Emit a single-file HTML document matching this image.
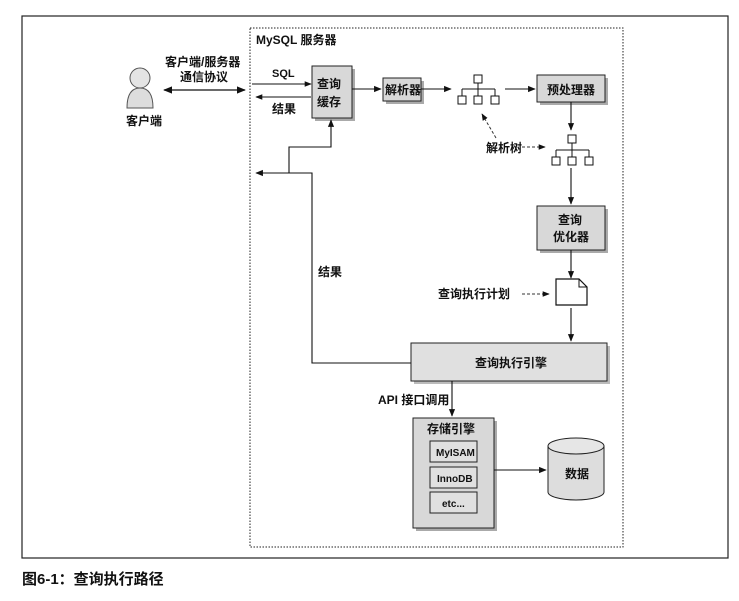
<!DOCTYPE html>
<html><head><meta charset="utf-8"><style>
body{margin:0;background:#fff;width:739px;height:596px;overflow:hidden}
svg text{font-family:"Liberation Sans","Noto Sans CJK SC",sans-serif;font-weight:bold;fill:#111}
</style></head><body>
<svg width="739" height="596" viewBox="0 0 739 596" xmlns="http://www.w3.org/2000/svg">
<defs>
<marker id="a" viewBox="0 0 10 10" refX="9" refY="5" markerWidth="7" markerHeight="7" orient="auto-start-reverse"><path d="M0,1 L10,5 L0,9 z" fill="#111"/></marker>
</defs>
<rect x="22" y="16" width="706" height="542" fill="none" stroke="#222" stroke-width="1.2"/>
<rect x="250" y="28" width="373" height="519" fill="none" stroke="#222" stroke-width="1" stroke-dasharray="1.5,1.5"/>
<text x="256" y="44" font-size="12" font-weight="normal">MySQL 服务器</text>
<!-- client -->
<path d="M127,108 Q127,88 140,88 Q153,88 153,108 Z" fill="#ddd" stroke="#555"/>
<circle cx="140" cy="78" r="10" fill="#e4e4e4" stroke="#555"/>
<text x="126" y="125" font-size="12">客户端</text>
<text x="165" y="66" font-size="12">客户端/服务器</text>
<text x="180" y="81" font-size="12">通信协议</text>
<line x1="164" y1="90" x2="245" y2="90" stroke="#111" stroke-width="1.3" marker-start="url(#a)" marker-end="url(#a)"/>
<text x="272" y="77" font-size="11">SQL</text>
<line x1="252" y1="84" x2="311" y2="84" stroke="#111" marker-end="url(#a)"/>
<line x1="311" y1="97" x2="256" y2="97" stroke="#111" marker-end="url(#a)"/>
<text x="272" y="113" font-size="12">结果</text>
<!-- boxes -->
<g fill="#d8d8d8" stroke="#222">
<rect x="315" y="69" width="40" height="52" fill="#aaa" stroke="none"/>
<rect x="312" y="66" width="40" height="52"/>
<rect x="386" y="81" width="38" height="23" fill="#aaa" stroke="none"/>
<rect x="383" y="78" width="38" height="23"/>
<rect x="540" y="78" width="68" height="27" fill="#aaa" stroke="none"/>
<rect x="537" y="75" width="68" height="27"/>
<rect x="540" y="209" width="68" height="44" fill="#aaa" stroke="none"/>
<rect x="537" y="206" width="68" height="44"/>
<rect x="414" y="346" width="196" height="38" fill="#bbb" stroke="none"/>
<rect x="411" y="343" width="196" height="38" fill="#e0e0e0"/>
<rect x="416" y="421" width="81" height="110" fill="#aaa" stroke="none"/>
<rect x="413" y="418" width="81" height="110"/>
<rect x="430" y="441" width="47" height="21" fill="#e0e0e0"/>
<rect x="430" y="467" width="47" height="21" fill="#e0e0e0"/>
<rect x="430" y="492" width="47" height="21" fill="#e0e0e0"/>
</g>
<text x="317" y="88" font-size="12">查询</text>
<text x="317" y="106" font-size="12">缓存</text>
<text x="385" y="94" font-size="12">解析器</text>
<text x="547" y="94" font-size="12">预处理器</text>
<text x="558" y="224" font-size="12">查询</text>
<text x="553" y="241" font-size="12">优化器</text>
<text x="475" y="367" font-size="12">查询执行引擎</text>
<text x="427" y="433" font-size="12">存储引擎</text>
<text x="436" y="456" font-size="10">MyISAM</text>
<text x="437" y="482" font-size="10">InnoDB</text>
<text x="442" y="507" font-size="10">etc...</text>
<!-- arrows main -->
<g stroke="#111" fill="none" stroke-width="1.1">
<line x1="352" y1="89" x2="381" y2="89" marker-end="url(#a)"/>
<line x1="421" y1="89" x2="451" y2="89" marker-end="url(#a)"/>
<line x1="505" y1="89" x2="535" y2="89" marker-end="url(#a)"/>
<line x1="571" y1="102" x2="571" y2="130" marker-end="url(#a)"/>
<line x1="571" y1="168" x2="571" y2="204" marker-end="url(#a)"/>
<line x1="571" y1="250" x2="571" y2="278" marker-end="url(#a)"/>
<line x1="571" y1="308" x2="571" y2="341" marker-end="url(#a)"/>
<line x1="452" y1="381" x2="452" y2="416" marker-end="url(#a)"/>
<line x1="494" y1="470" x2="546" y2="470" marker-end="url(#a)"/>
<polyline points="411,363 312,363 312,173 256,173" marker-end="url(#a)"/>
<polyline points="289,173 289,147 331,147 331,120" marker-end="url(#a)"/>
</g>
<g stroke="#333" fill="none" stroke-dasharray="3,2">
<line x1="522" y1="147" x2="545" y2="147" marker-end="url(#a)"/>
<line x1="496" y1="138" x2="482" y2="114" marker-end="url(#a)"/>
<line x1="522" y1="294" x2="549" y2="294" marker-end="url(#a)"/>
</g>
<text x="486" y="152" font-size="12">解析树</text>
<text x="438" y="298" font-size="12">查询执行计划</text>
<text x="318" y="276" font-size="12">结果</text>
<text x="378" y="404" font-size="12">API 接口调用</text>
<!-- trees -->
<g stroke="#111" fill="#fff">
<path d="M478,82 V89 M462,89 H495 M462,89 V96 M478,89 V96 M495,89 V96" fill="none"/>
<rect x="474" y="75" width="8" height="8"/><rect x="458" y="96" width="8" height="8"/><rect x="474" y="96" width="8" height="8"/><rect x="491" y="96" width="8" height="8"/>
<path d="M572,143 V150 M556,150 H589 M556,150 V157 M572,150 V157 M589,150 V157" fill="none"/>
<rect x="568" y="135" width="8" height="8"/><rect x="552" y="157" width="8" height="8"/><rect x="568" y="157" width="8" height="8"/><rect x="585" y="157" width="8" height="8"/>
<path d="M556,279 H579 L587,287 V305 H556 Z" stroke-width="1.2"/>
<path d="M579,279 V287 H587" fill="none"/>
</g>
<!-- cylinder -->
<path d="M548,446 V492 A28,8 0 0 0 604,492 V446" fill="#ddd" stroke="#222"/>
<ellipse cx="576" cy="446" rx="28" ry="8" fill="#e6e6e6" stroke="#222"/>
<text x="565" y="478" font-size="12">数据</text>
<text x="22" y="584" font-size="15">图6-1：查询执行路径</text>
</svg>
</body></html>
